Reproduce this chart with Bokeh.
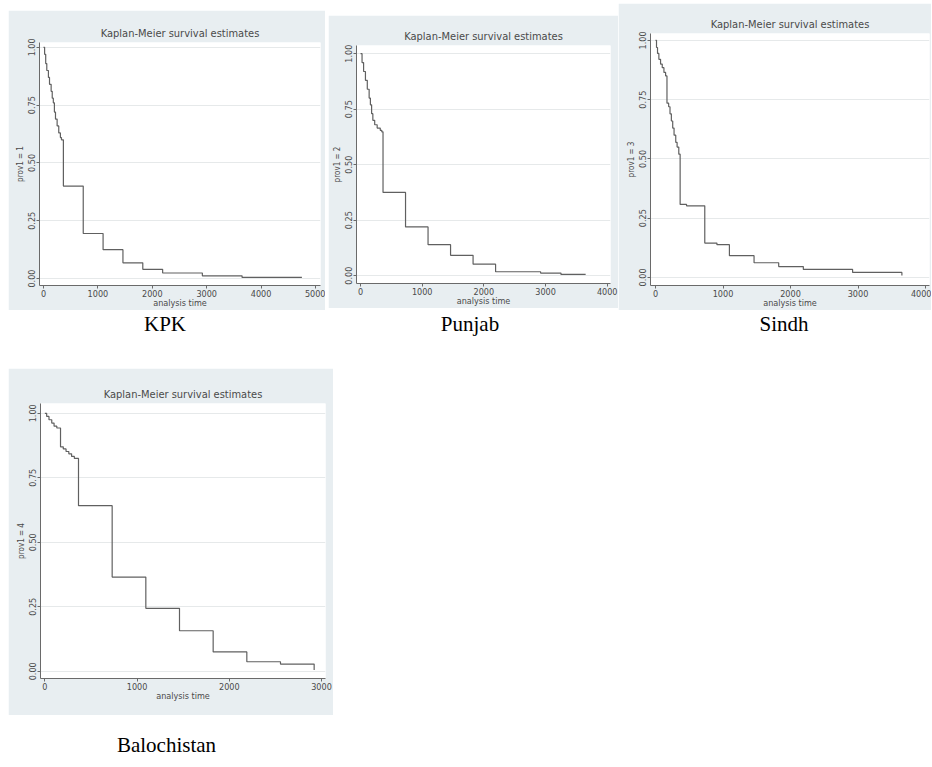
from bokeh.plotting import figure
from bokeh.layouts import column, row
from bokeh.models import Spacer, Div, FixedTicker, Range1d
from bokeh.embed import file_html
from bokeh.resources import INLINE

# ---------------- data ----------------
title_text = "Kaplan-Meier survival estimates"
x_axis_label = "analysis time"

y_ticks = [0.0, 0.25, 0.5, 0.75, 1.0]
y_tick_labels = ["0.00", "0.25", "0.50", "0.75", "1.00"]

kpk_time = [0, 20, 40, 60, 90, 110, 140, 160, 180, 200, 220, 250, 280, 310, 330,
            365, 730, 1095, 1460, 1825, 2190, 2920, 3650, 4750]
kpk_surv = [1.00, 0.97, 0.93, 0.90, 0.87, 0.84, 0.81, 0.78, 0.76, 0.72, 0.69, 0.66, 0.63, 0.61, 0.60,
            0.40, 0.195, 0.125, 0.068, 0.040, 0.024, 0.012, 0.005, 0.005]
kpk_xticks = [0, 1000, 2000, 3000, 4000, 5000]

punjab_time = [0, 25, 50, 80, 110, 140, 160, 180, 200, 230, 270, 320, 345,
               365, 730, 1095, 1460, 1825, 2190, 2920, 3250, 3650]
punjab_surv = [1.00, 0.96, 0.92, 0.88, 0.84, 0.80, 0.77, 0.73, 0.70, 0.68, 0.665, 0.655, 0.648,
               0.375, 0.22, 0.14, 0.092, 0.052, 0.018, 0.012, 0.006, 0.006]
punjab_xticks = [0, 1000, 2000, 3000, 4000]

sindh_time = [0, 15, 30, 50, 75, 100, 125, 150, 170, 195, 215, 235, 255, 275, 300, 320, 345,
              365, 460, 730, 910, 1095, 1460, 1825, 2190, 2920, 3650]
sindh_surv = [1.00, 0.97, 0.945, 0.92, 0.90, 0.885, 0.865, 0.85, 0.735, 0.72, 0.69, 0.66, 0.63, 0.60, 0.57, 0.55, 0.52,
              0.308, 0.302, 0.145, 0.138, 0.092, 0.062, 0.046, 0.034, 0.021, 0.008]
sindh_xticks = [0, 1000, 2000, 3000, 4000]

balo_time = [0, 20, 45, 75, 100, 130, 170, 200, 230, 260, 290, 320,
             365, 730, 1095, 1460, 1825, 2190, 2555, 2920]
balo_surv = [1.00, 0.988, 0.975, 0.962, 0.95, 0.943, 0.87, 0.862, 0.852, 0.843, 0.833, 0.825,
             0.642, 0.365, 0.244, 0.157, 0.075, 0.037, 0.028, 0.005]
balo_xticks = [0, 1000, 2000, 3000]

captions = ["KPK", "Punjab", "Sindh", "Balochistan"]
y_labels = ["prov1 = 1", "prov1 = 2", "prov1 = 3", "prov1 = 4"]

# ---------------- styling ----------------
PANEL_BG = "#E8EEF1"
LINE_COLOR = "#606060"
AXIS_COLOR = "#6a6a6a"
TEXT_COLOR = "#4a4a4a"
NARROW = "DejaVu Sans Condensed"


def make_panel(times, surv, xticks, ylabel, xr, yr, w, h, bl, br, bt, bb):
    p = figure(width=w, height=h, output_backend="svg", toolbar_location=None, tools="",
               x_range=Range1d(*xr), y_range=Range1d(*yr),
               min_border_left=bl, min_border_right=br, min_border_top=bt, min_border_bottom=bb,
               background_fill_color="white", border_fill_color=PANEL_BG,
               outline_line_color=None, title=title_text)
    p.title.align = "center"
    p.title.text_font = NARROW
    p.title.text_font_size = "11px"
    p.title.text_font_style = "normal"
    p.title.text_color = TEXT_COLOR
    p.title.standoff = 6

    p.step(times, surv, mode="after", line_color=LINE_COLOR, line_width=1.2)

    p.xaxis.ticker = FixedTicker(ticks=xticks)
    p.xaxis.axis_label = x_axis_label
    p.yaxis.ticker = FixedTicker(ticks=y_ticks)
    p.yaxis.major_label_overrides = {t: l for t, l in zip(y_ticks, y_tick_labels)}
    p.yaxis.major_label_orientation = "vertical"
    p.yaxis.axis_label = ylabel

    for ax in (p.xaxis[0], p.yaxis[0]):
        ax.axis_line_color = AXIS_COLOR
        ax.major_tick_line_color = AXIS_COLOR
        ax.major_tick_out = 3
        ax.major_tick_in = 0
        ax.minor_tick_line_color = None
        ax.major_label_text_font = NARROW
        ax.major_label_text_font_size = "9px"
        ax.major_label_text_color = TEXT_COLOR
        ax.major_label_standoff = 1
        ax.axis_label_text_font = NARROW
        ax.axis_label_text_font_size = "9px"
        ax.axis_label_text_font_style = "normal"
        ax.axis_label_text_color = TEXT_COLOR
        ax.axis_label_standoff = 1
    p.xaxis.axis_label_standoff = -2
    p.yaxis.axis_label_text_font_size = "8px"

    p.xgrid.visible = False
    p.ygrid.grid_line_color = "#e6e9ea"
    p.ygrid.grid_line_width = 1
    return p


kpk = make_panel(kpk_time, kpk_surv, kpk_xticks, y_labels[0],
                 (-74, 5092), (-0.030, 1.021), 317, 300, 31, 5, 32, 24)
punjab = make_panel(punjab_time, punjab_surv, punjab_xticks, y_labels[1],
                    (-65, 4053), (-0.035, 1.037), 290, 293, 28, 8, 30, 24)
sindh = make_panel(sindh_time, sindh_surv, sindh_xticks, y_labels[2],
                   (-74, 4059), (-0.034, 1.029), 313, 307, 32, 2, 30, 24)
balo = make_panel(balo_time, balo_surv, balo_xticks, y_labels[3],
                  (-47, 3043), (-0.028, 1.038), 325, 347, 32, 8, 35, 37)


def caption(text, w, h):
    html = ('<div style="font-family: \'Liberation Serif\', \'Times New Roman\', serif; '
            f'font-size: 21px; text-align: center; line-height: {h}px; color: #000; width: {w}px;">'
            f'{text}</div>')
    return Div(text=html, width=w, height=h, margin=(0, 0, 0, 0))


def sp(w, h):
    return Spacer(width=w, height=h, margin=(0, 0, 0, 0))


row1 = row(sp(8, 310),
           column(sp(317, 10), kpk, spacing=0),
           sp(3, 310),
           column(sp(290, 15), punjab, spacing=0),
           column(sp(313, 3), sindh, spacing=0),
           spacing=0)
cap_row = row(caption(captions[0], 330, 28), caption(captions[1], 280, 28), sp(30, 28),
              caption(captions[2], 288, 28), spacing=0)
row2 = row(sp(8, 347), balo, spacing=0)
layout = column(row1, cap_row, sp(333, 30), row2, sp(333, 17),
                caption(captions[3], 333, 26), spacing=0)

open("out.html", "w").write(file_html(layout, INLINE))
